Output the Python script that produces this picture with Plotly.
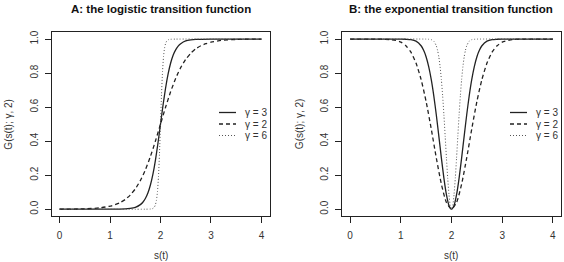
import plotly.graph_objects as go

# ---------------- data ----------------
# Panel A: logistic transition function
logi_g3_s = [0.0, 1.0, 1.3, 1.4, 1.5, 1.6, 1.65, 1.7, 1.75, 1.8, 1.85, 1.9, 1.95, 2.0,
             2.05, 2.1, 2.15, 2.2, 2.25, 2.3, 2.35, 2.4, 2.5, 2.6, 2.7, 3.0, 4.0]
logi_g3_v = [0.0, 0.0, 0.002, 0.005, 0.011, 0.027, 0.041, 0.063, 0.095, 0.142, 0.206, 0.289, 0.389, 0.5,
             0.611, 0.711, 0.794, 0.858, 0.905, 0.937, 0.959, 0.973, 0.989, 0.995, 0.998, 1.0, 1.0]

logi_g2_s = [0.0, 0.5, 0.8, 1.0, 1.1, 1.2, 1.3, 1.4, 1.5, 1.6, 1.7, 1.8, 1.9, 2.0,
             2.1, 2.2, 2.3, 2.4, 2.5, 2.6, 2.7, 2.8, 2.9, 3.0, 3.2, 3.5, 4.0]
logi_g2_v = [0.0, 0.002, 0.008, 0.018, 0.027, 0.039, 0.057, 0.083, 0.119, 0.168, 0.231, 0.310, 0.401, 0.5,
             0.599, 0.690, 0.769, 0.832, 0.881, 0.917, 0.943, 0.961, 0.973, 0.982, 0.992, 0.998, 1.0]

logi_g6_s = [0.0, 1.7, 1.8, 1.84, 1.88, 1.9, 1.92, 1.94, 1.96, 1.98, 2.0,
             2.02, 2.04, 2.06, 2.08, 2.1, 2.12, 2.16, 2.2, 2.3, 4.0]
logi_g6_v = [0.0, 0.0, 0.001, 0.003, 0.013, 0.027, 0.053, 0.103, 0.192, 0.327, 0.5,
             0.673, 0.808, 0.897, 0.947, 0.973, 0.987, 0.997, 0.999, 1.0, 1.0]

# Panel B: exponential transition function
expo_g3_s = [0.0, 1.0, 1.1, 1.2, 1.3, 1.4, 1.45, 1.5, 1.55, 1.6, 1.65, 1.7, 1.75, 1.8, 1.85, 1.9, 1.95, 2.0,
             2.05, 2.1, 2.15, 2.2, 2.25, 2.3, 2.35, 2.4, 2.45, 2.5, 2.55, 2.6, 2.7, 2.8, 2.9, 3.0, 4.0]
expo_g3_v = [1.0, 1.0, 0.999, 0.997, 0.988, 0.961, 0.934, 0.895, 0.838, 0.763, 0.668, 0.555, 0.430, 0.302, 0.183, 0.086, 0.022, 0.0,
             0.022, 0.086, 0.183, 0.302, 0.430, 0.555, 0.668, 0.763, 0.838, 0.895, 0.934, 0.961, 0.988, 0.997, 0.999, 1.0, 1.0]

expo_g2_s = [0.0, 0.4, 0.6, 0.8, 0.9, 1.0, 1.1, 1.2, 1.3, 1.4, 1.5, 1.6, 1.7, 1.8, 1.9, 2.0,
             2.1, 2.2, 2.3, 2.4, 2.5, 2.6, 2.7, 2.8, 2.9, 3.0, 3.2, 3.4, 3.6, 4.0]
expo_g2_v = [1.0, 1.0, 1.0, 0.997, 0.992, 0.982, 0.961, 0.923, 0.859, 0.763, 0.632, 0.473, 0.302, 0.148, 0.039, 0.0,
             0.039, 0.148, 0.302, 0.473, 0.632, 0.763, 0.859, 0.923, 0.961, 0.982, 0.997, 1.0, 1.0, 1.0]

expo_g6_s = [0.0, 1.5, 1.55, 1.6, 1.65, 1.7, 1.725, 1.75, 1.775, 1.8, 1.825, 1.85, 1.875, 1.9, 1.925, 1.95, 1.975, 2.0,
             2.025, 2.05, 2.075, 2.1, 2.125, 2.15, 2.175, 2.2, 2.225, 2.25, 2.275, 2.3, 2.35, 2.4, 2.45, 2.5, 4.0]
expo_g6_v = [1.0, 1.0, 0.999, 0.997, 0.988, 0.961, 0.934, 0.895, 0.838, 0.763, 0.668, 0.555, 0.430, 0.302, 0.183, 0.086, 0.022, 0.0,
             0.022, 0.086, 0.183, 0.302, 0.430, 0.555, 0.668, 0.763, 0.838, 0.895, 0.934, 0.961, 0.988, 0.997, 0.999, 1.0, 1.0]

legend_labels = ["γ = 3", "γ = 2", "γ = 6"]
x_ticks = [0, 1, 2, 3, 4]
y_ticks = [0.0, 0.2, 0.4, 0.6, 0.8, 1.0]
y_tick_text = ["0.0", "0.2", "0.4", "0.6", "0.8", "1.0"]
titles = ["A: the logistic transition function", "B: the exponential transition function"]
x_title = "s(t)"
y_title = "G(s(t); γ, 2)"

# ---------------- figure ----------------
W, H = 564, 262
FONT = "Liberation Sans, Arial, sans-serif"
INK = "#222222"
TXT = "#333333"

fig = go.Figure()

styles = [
    dict(color=INK, width=1.3, dash="solid"),
    dict(color=INK, width=1.3, dash="4px,3px"),
    dict(color="#555555", width=1.0, dash="1px,2px"),
]

panelA = [(logi_g3_s, logi_g3_v), (logi_g2_s, logi_g2_v), (logi_g6_s, logi_g6_v)]
panelB = [(expo_g3_s, expo_g3_v), (expo_g2_s, expo_g2_v), (expo_g6_s, expo_g6_v)]

for i, (s, v) in enumerate(panelA):
    fig.add_trace(go.Scatter(x=s, y=v, mode="lines", line=dict(**styles[i], shape="spline", smoothing=0.6),
                             name=legend_labels[i], xaxis="x", yaxis="y", showlegend=False))
for i, (s, v) in enumerate(panelB):
    fig.add_trace(go.Scatter(x=s, y=v, mode="lines", line=dict(**styles[i], shape="spline", smoothing=0.6),
                             name=legend_labels[i], xaxis="x2", yaxis="y2", showlegend=False))

# pixel geometry -> paper fractions
def px_x(p):
    return p / W

def px_y(p):
    return 1 - p / H

boxA = (51.5, 269.5)
boxB = (342.0, 561.0)
box_top, box_bot = 32.3, 216.0

axis_common = dict(
    showline=True, linecolor=INK, linewidth=1, mirror=True,
    ticks="outside", ticklen=6, tickwidth=1, tickcolor=INK,
    showgrid=False, zeroline=False, automargin=False,
    tickfont=dict(family=FONT, size=10, color=TXT),
)

xr = [-0.16, 4.16]
yr = [-0.04, 1.04]

fig.update_layout(
    width=W, height=H,
    margin=dict(l=0, r=0, t=0, b=0),
    paper_bgcolor="white", plot_bgcolor="white",
    font=dict(family=FONT, size=10, color=TXT),
    showlegend=False,
    xaxis=dict(domain=[px_x(boxA[0]), px_x(boxA[1])], range=xr, tickvals=x_ticks, anchor="y",
               ticklabelstandoff=4, **axis_common),
    yaxis=dict(domain=[px_y(box_bot), px_y(box_top)], range=yr, tickvals=y_ticks, ticktext=y_tick_text,
               tickangle=-90, anchor="x", ticklabelstandoff=3, **axis_common),
    xaxis2=dict(domain=[px_x(boxB[0]), px_x(boxB[1])], range=xr, tickvals=x_ticks, anchor="y2",
                ticklabelstandoff=4, **axis_common),
    yaxis2=dict(domain=[px_y(box_bot), px_y(box_top)], range=yr, tickvals=y_ticks, ticktext=y_tick_text,
                tickangle=-90, anchor="x2", ticklabelstandoff=3, **axis_common),
)

annotations = []
shapes = []
legend_rows = [112.5, 124.0, 135.5]
for (x0, x1), t, lx in zip([boxA, boxB], titles, [219.0, 510.0]):
    annotations.append(dict(text="<b>" + t + "</b>", x=px_x((x0 + x1) / 2), y=px_y(8.5),
                            xref="paper", yref="paper", xanchor="center", yanchor="middle",
                            showarrow=False, font=dict(family=FONT, size=11.5, color="#111111")))
    annotations.append(dict(text=x_title, x=px_x((x0 + x1) / 2), y=px_y(255),
                            xref="paper", yref="paper", xanchor="center", yanchor="middle",
                            showarrow=False, font=dict(family=FONT, size=10, color=TXT)))
    annotations.append(dict(text=y_title, x=px_x(x0 - 43), y=px_y((box_top + box_bot) / 2),
                            xref="paper", yref="paper", xanchor="center", yanchor="middle",
                            textangle=-90, showarrow=False, font=dict(family=FONT, size=10, color=TXT)))
    # legend
    for k, ry in enumerate(legend_rows):
        st = styles[k]
        shapes.append(dict(type="line", xref="paper", yref="paper",
                           x0=px_x(lx), x1=px_x(lx + 17), y0=px_y(ry), y1=px_y(ry),
                           line=dict(color=st["color"], width=st["width"], dash=st["dash"])))
        annotations.append(dict(text=legend_labels[k], x=px_x(lx + 24), y=px_y(ry),
                                xref="paper", yref="paper", xanchor="left", yanchor="middle",
                                showarrow=False, font=dict(family=FONT, size=10, color=TXT)))
fig.update_layout(annotations=annotations, shapes=shapes)

fig.write_html("out.html")
